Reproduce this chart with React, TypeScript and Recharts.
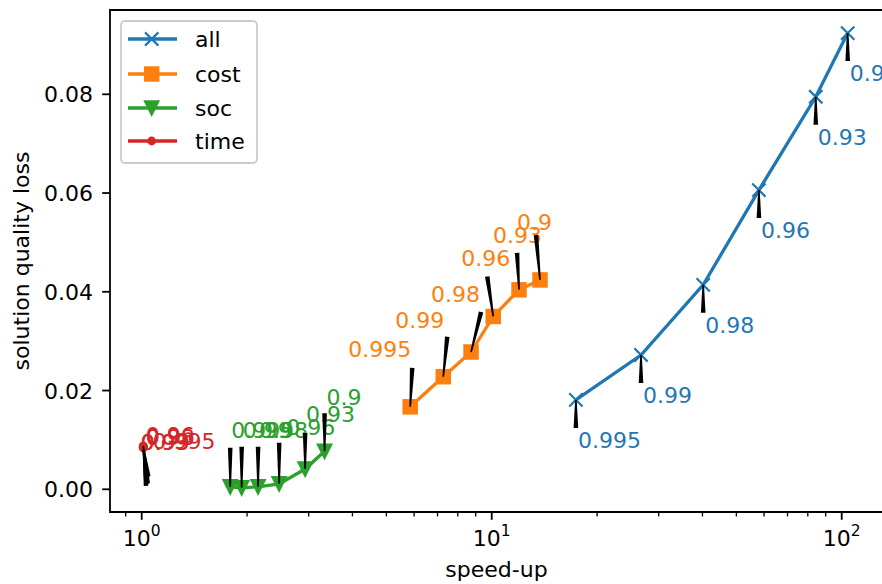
import React from "react"
import { ComposedChart, Line, XAxis, YAxis, Legend, ReferenceArea } from "recharts"

// speed-up (x, log) vs solution quality loss (y), one run per threshold
const thresholds = ["0.995", "0.99", "0.98", "0.96", "0.93", "0.9"]

const speedAll = [17.4, 26.7, 40.2, 58.0, 84.3, 104.0]
const lossAll = [0.0181, 0.0272, 0.0414, 0.0606, 0.0795, 0.0924]

const speedCost = [5.85, 7.27, 8.73, 10.1, 11.97, 13.74]
const lossCost = [0.0167, 0.0228, 0.0278, 0.035, 0.0404, 0.0424]

const speedSoc = [1.79, 1.93, 2.15, 2.47, 2.93, 3.33]
const lossSoc = [0.0005, 0.0003, 0.0005, 0.0011, 0.0041, 0.0077]

const speedTime = [1.012, 1.01, 1.011, 1.01, 1.009, 1.01]
const lossTime = [0.0084, 0.0085, 0.0086, 0.0087, 0.0085, 0.0088]

const xTicks = [0.9, 1, 2, 3, 4, 5, 6, 7, 8, 9, 10, 20, 30, 40, 50, 60, 70, 80, 90, 100]
const yTicks = [0, 0.02, 0.04, 0.06, 0.08]

const X_MIN = 0.8117
const X_MAX = 131.2
const Y_MIN = -0.0046
const Y_MAX = 0.09707

const FONT = '"DejaVu Sans", sans-serif'
const FS = 22

const toRows = (xs: number[], ys: number[]) => xs.map((x, i) => ({ x, y: ys[i], t: thresholds[i] }))

const allData = toRows(speedAll, lossAll)
const costData = toRows(speedCost, lossCost)
const socData = toRows(speedSoc, lossSoc)
const timeData = toRows(speedTime, lossTime)

// annotation placement in px relative to the point: [labelDx, labelDy, tailDx, tailDy]
const allLayout = thresholds.map(() => [2, 48, 0, 28])
const costLayout = [
  [1, -49.7, 2, -39],
  [1, -48.7, 4, -40],
  [9, -50, 10, -40],
  [17, -50, -6, -40],
  [23, -47, -2, -37],
  [12, -50, -4, -45],
]
const socLayout = [
  [1, -49, 0, -39],
  [1, -50, 0, -41],
  [1, -49, 0, -40],
  [7, -49, 0, -41],
  [1, -47, 0, -36],
  [2, -46, 0, -38],
]
const timeLayout = [
  [9, 1, 2.5, 38],
  [-2.5, 3, 4.5, 36],
  [2.5, -2, 3, 34],
  [2.5, -3, 5, 30],
  [-2.5, 3, 3.5, 37],
  [2.5, -2, 4, 32],
]

const series = [
  { name: "all", color: "#1f77b4", marker: "x" },
  { name: "cost", color: "#ff7f0e", marker: "s" },
  { name: "soc", color: "#2ca02c", marker: "v" },
  { name: "time", color: "#d62728", marker: "." },
]

function Marker({ kind, x, y, color }: any) {
  const h = 6.65
  if (kind === "x")
    return (
      <path d={`M${x - h},${y - h}L${x + h},${y + h}M${x - h},${y + h}L${x + h},${y - h}`} stroke={color} strokeWidth={2.2} fill="none" />
    )
  if (kind === "s")
    return <rect x={x - h} y={y - h} width={2 * h} height={2 * h} fill={color} stroke={color} strokeWidth={2.2} />
  if (kind === "v")
    return (
      <polygon points={`${x},${y + h} ${x - h},${y - h} ${x + h},${y - h}`} fill={color} stroke={color} strokeWidth={2.2} strokeLinejoin="miter" />
    )
  return <circle cx={x} cy={y} r={3.3} fill={color} stroke={color} strokeWidth={2.2} />
}

function wedge(tx: number, ty: number, hx: number, hy: number) {
  const dx = hx - tx
  const dy = hy - ty
  const len = Math.hypot(dx, dy)
  if (len < 3) return null
  const nx = -dy / len
  const ny = dx / len
  const wt = 2.3
  const wh = 0.8
  const pts = [
    [tx + nx * wt, ty + ny * wt],
    [hx + nx * wh, hy + ny * wh],
    [hx - nx * wh, hy - ny * wh],
    [tx - nx * wt, ty - ny * wt],
  ]
  return <polygon points={pts.map((p) => p.join(",")).join(" ")} fill="#000" />
}

const makeDot = (color: string, kind: string, layout: number[][], anchor: string) => (props: any) => {
  const { cx, cy, index } = props
  if (cx == null || cy == null) return <g key={`e-${index}`} />
  const [lx, ly, ax, ay] = layout[index]
  return (
    <g key={`${kind}-${index}`}>
      <Marker kind={kind} x={cx} y={cy} color={color} />
      {wedge(cx + ax, cy + ay, cx, cy)}
      <text x={cx + lx} y={cy + ly} fill={color} fontSize={FS} fontFamily={FONT} textAnchor={anchor}>
        {thresholds[index]}
      </text>
    </g>
  )
}

const XTick = (props: any) => {
  const { x, y, payload } = props
  const v = payload.value
  const major = v === 1 || v === 10 || v === 100
  const exp = Math.round(Math.log10(v))
  return (
    <g>
      <line x1={x} x2={x} y1={y} y2={y + (major ? 7.8 : 4.4)} stroke="#000" strokeWidth={major ? 1.8 : 1.3} />
      {major && (
        <text x={x} y={y + 34} textAnchor="middle" fontSize={FS} fontFamily={FONT} fill="#000">
          10
          <tspan fontSize={15.5} dy={-10}>{exp}</tspan>
        </text>
      )}
    </g>
  )
}

const YTick = (props: any) => {
  const { x, y, payload } = props
  return (
    <g>
      <line x1={x - 7.8} x2={x} y1={y} y2={y} stroke="#000" strokeWidth={1.8} />
      <text x={x - 17} y={y + 8} textAnchor="end" fontSize={FS} fontFamily={FONT} fill="#000">
        {payload.value.toFixed(2)}
      </text>
    </g>
  )
}

const renderLegend = () => (
  <svg width={138} height={144} style={{ display: "block" }}>
    <rect x={1} y={1} width={136} height={142} rx={4} fill="#fff" fillOpacity={0.8} stroke="#cccccc" strokeWidth={1.8} />
    {series.map((s, i) => {
      const ry = [19, 54, 88, 121][i]
      return (
        <g key={s.name}>
          <line x1={8} x2={57} y1={ry} y2={ry} stroke={s.color} strokeWidth={3.3} />
          <Marker kind={s.marker} x={31.7} y={ry} color={s.color} />
          <text x={75} y={ry + 8} fontSize={FS} fontFamily={FONT} fill="#000">
            {s.name}
          </text>
        </g>
      )
    })}
  </svg>
)

export default function App() {
  return (
    <div style={{ width: 882, height: 584, overflow: "hidden", background: "#fff" }}>
      <style>{"html,body{margin:0;padding:0;overflow:hidden;}"}</style>
      <ComposedChart width={900} height={584} margin={{ top: 10, right: 17, bottom: 0, left: 0 }}>
        <ReferenceArea x1={X_MIN} x2={X_MAX} y1={Y_MIN} y2={Y_MAX} fill="none" stroke="#000" strokeWidth={1.8} ifOverflow="visible" />
        <XAxis
          dataKey="x"
          type="number"
          scale="log"
          domain={[X_MIN, X_MAX]}
          ticks={xTicks}
          interval={0}
          height={72}
          tickSize={0}
          tickMargin={0}
          axisLine={false}
          tickLine={false}
          tick={<XTick />}
          label={{
            content: () => (
              <text x={496.5} y={577} textAnchor="middle" fontSize={FS} fontFamily={FONT} fill="#000">
                speed-up
              </text>
            ),
          }}
        />
        <YAxis
          type="number"
          domain={[Y_MIN, Y_MAX]}
          ticks={yTicks}
          interval={0}
          width={110}
          tickSize={0}
          tickMargin={0}
          axisLine={false}
          tickLine={false}
          tick={<YTick />}
          label={{
            content: () => (
              <text x={29} y={261} transform="rotate(-90, 29, 261)" textAnchor="middle" fontSize={FS} fontFamily={FONT} fill="#000">
                solution quality loss
              </text>
            ),
          }}
        />
        <Legend
          layout="horizontal"
          verticalAlign="middle"
          align="center"
          wrapperStyle={{ left: 120, top: 20, width: 138, height: 144 }}
          content={renderLegend}
        />
        <Line data={allData} dataKey="y" name="all" type="linear" stroke="#1f77b4" strokeWidth={3.3}
          dot={makeDot("#1f77b4", "x", allLayout, "start")} activeDot={false} isAnimationActive={false} />
        <Line data={costData} dataKey="y" name="cost" type="linear" stroke="#ff7f0e" strokeWidth={3.3}
          dot={makeDot("#ff7f0e", "s", costLayout, "end")} activeDot={false} isAnimationActive={false} />
        <Line data={socData} dataKey="y" name="soc" type="linear" stroke="#2ca02c" strokeWidth={3.3}
          dot={makeDot("#2ca02c", "v", socLayout, "start")} activeDot={false} isAnimationActive={false} />
        <Line data={timeData} dataKey="y" name="time" type="linear" stroke="#d62728" strokeWidth={3.3}
          dot={makeDot("#d62728", ".", timeLayout, "start")} activeDot={false} isAnimationActive={false} />
      </ComposedChart>
    </div>
  )
}
